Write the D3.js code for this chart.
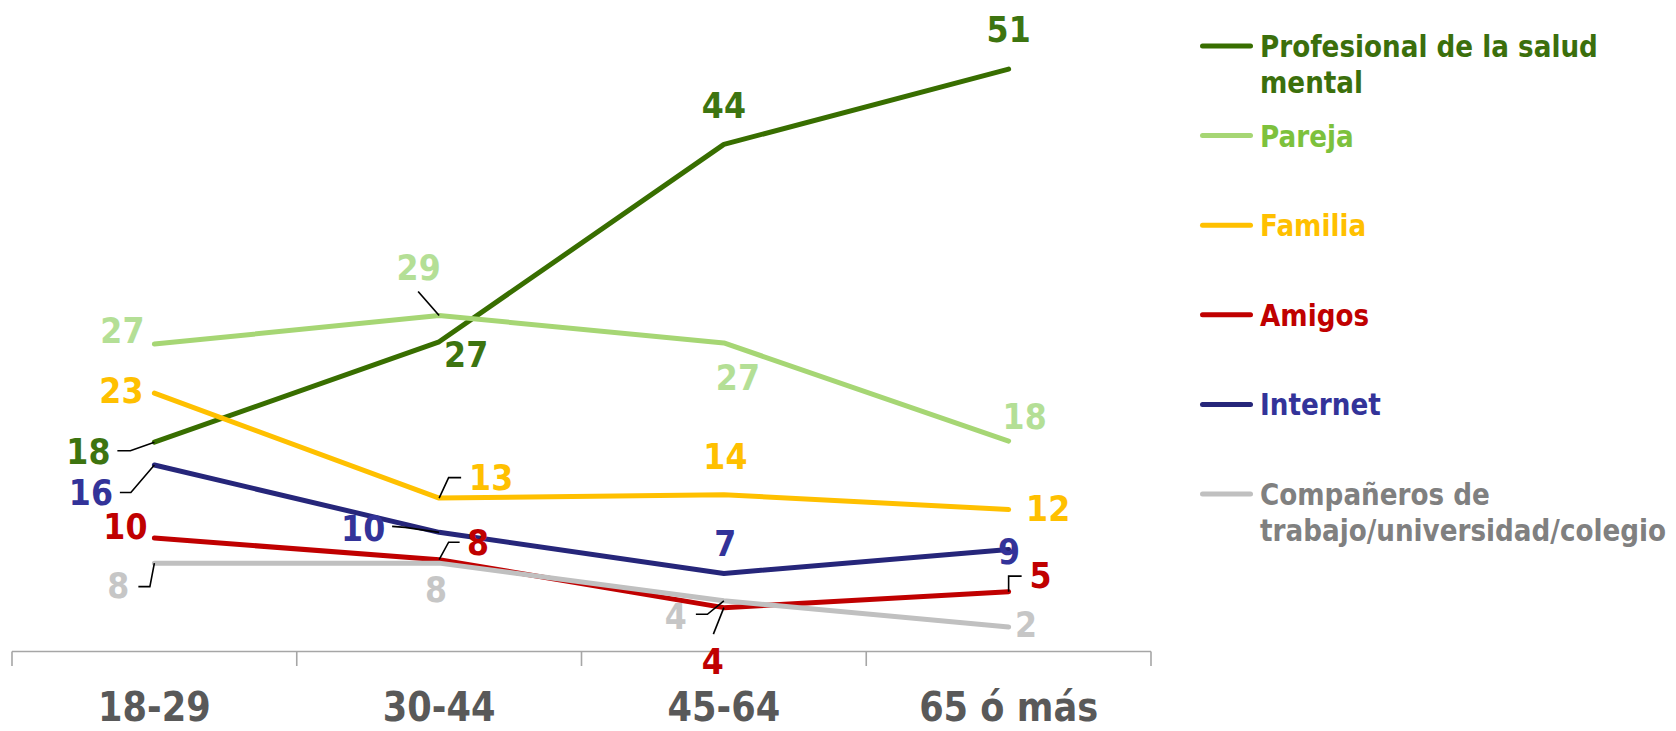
<!DOCTYPE html>
<html><head><meta charset="utf-8">
<script src="https://cdn.jsdelivr.net/npm/d3@7"></script>
<style>body{margin:0;background:#fff;} svg{display:block;}</style>
</head><body><svg id="chart" width="1676" height="731"></svg>
<script>
// ---------- data ----------
const categories = ["18-29", "30-44", "45-64", "65 ó más"];
const seriesNames = ["Profesional de la salud mental", "Pareja", "Familia", "Amigos", "Internet", "Compañeros de trabajo/universidad/colegio"];
const profesional = [18.3, 27.1, 44.4, 51.0];
const pareja      = [26.9, 29.4, 27.0, 18.4];
const familia     = [22.6, 13.4, 13.7, 12.4];
const amigos      = [9.9, 8.0, 3.8, 5.2];
const internet    = [16.3, 10.4, 6.8, 8.9];
const companeros  = [7.7, 7.7, 4.4, 2.1];

// ---------- styles / layout ----------
const legendLines = [["Profesional de la salud", "mental"], ["Pareja"], ["Familia"], ["Amigos"], ["Internet"], ["Compañeros de", "trabajo/universidad/colegio"]];
const lineColors   = ["#386e00", "#a6d674", "#ffc000", "#c00000", "#26267a", "#c0c0c0"];
const labelColors  = ["#3d7410", "#b4df96", "#ffc000", "#c00000", "#333399", "#c6c6c6"];
const legendColors = ["#3b6f0c", "#7dc13c", "#ffc000", "#c00000", "#333399", "#808080"];

// label placement relative to each point: dx (center), dy (baseline), optional leader polyline
const labelLayout = [
  [ {dx:-66, dy:22, leader:[[-37,8.5],[-24,8.5],[0,0]]}, {dx:27, dy:25}, {dx:0, dy:-26}, {dx:0, dy:-27} ],
  [ {dx:-32, dy:-1}, {dx:-20.5, dy:-36, leader:[[-21,-24],[0,0]]}, {dx:14, dy:47}, {dx:16, dy:-12} ],
  [ {dx:-33, dy:10}, {dx:52, dy:-8, leader:[[0,0],[9.5,-20.5],[22,-20.5]]}, {dx:1.5, dy:-26}, {dx:39.5, dy:11} ],
  [ {dx:-29, dy:1}, {dx:39, dy:-5, leader:[[0,0],[9.5,-17.5],[20.5,-17.5]]}, {dx:-11, dy:66, leader:[[0,0],[-10.5,26.5]]}, {dx:32, dy:-3.5, leader:[[0,0],[0,-15.5],[13,-15.5]]} ],
  [ {dx:-63.5, dy:40, leader:[[-34.5,27.5],[-23.5,27.5],[0,0]]}, {dx:-76, dy:9, leader:[[-47,-6],[-34,-5],[0,0]]}, {dx:1.5, dy:-17}, {dx:0.5, dy:15} ],
  [ {dx:-36, dy:35, leader:[[-16,23.5],[-4.5,23.5],[0,0]]}, {dx:-3, dy:38.5}, {dx:-48, dy:28.5, leader:[[-28,13.5],[-16.5,13.5],[0,0]]}, {dx:17.5, dy:9.5} ]
];

const allValues = [profesional, pareja, familia, amigos, internet, companeros];
const series = seriesNames.map((name, i) => ({
  name, values: allValues[i], legend: legendLines[i],
  line: lineColors[i], label: labelColors[i], legendColor: legendColors[i], layout: labelLayout[i]
}));

const FONT = "'DejaVu Sans', Verdana, sans-serif";
const svg = d3.select("#chart");

const x = d3.scaleBand().domain(categories).range([12, 1151]).paddingInner(0).paddingOuter(0);
const y = d3.scaleLinear().domain([0, 55]).range([651, 651 - 55 * 11.41]);
const cx = c => x(c) + x.bandwidth() / 2;

// ---------- axis ----------
const axisY = 651.5;
const axisG = svg.append("g").attr("class", "x-axis");
axisG.append("line").attr("x1", x.range()[0]).attr("x2", x.range()[1])
  .attr("y1", axisY).attr("y2", axisY).attr("stroke", "#a6a6a6").attr("stroke-width", 1.6);
const boundaries = categories.map(c => x(c)).concat([x.range()[1]]);
axisG.selectAll("line.tick").data(boundaries).join("line").attr("class", "tick")
  .attr("x1", d => d).attr("x2", d => d).attr("y1", axisY).attr("y2", 666)
  .attr("stroke", "#a6a6a6").attr("stroke-width", 1.6);

const labAxis = svg.append("g").attr("transform", `translate(0,${axisY})`)
  .call(d3.axisBottom(x).tickSize(0).tickPadding(0));
labAxis.select(".domain").remove();
labAxis.selectAll(".tick text")
  .attr("font-family", FONT).attr("font-weight", "bold").attr("font-size", 40)
  .attr("fill", "#595959").attr("y", 0).attr("dy", 0)
  .attr("transform", `translate(0,${721 - axisY}) scale(0.88,1)`);

// ---------- lines ----------
const lineGen = d3.line().x((d, i) => cx(categories[i])).y(d => y(d));
svg.append("g").selectAll("path.series").data(series).join("path").attr("class", "series")
  .attr("d", d => lineGen(d.values)).attr("fill", "none")
  .attr("stroke", d => d.line).attr("stroke-width", 5)
  .attr("stroke-linecap", "round").attr("stroke-linejoin", "round");

// ---------- leaders & labels ----------
const fmt = d3.format(".0f");
const labG = svg.append("g");
series.forEach(s => {
  s.values.forEach((v, i) => {
    const px = cx(categories[i]), py = y(v);
    const L = s.layout[i];
    if (L.leader) {
      labG.append("polyline")
        .attr("points", L.leader.map(p => [px + p[0], py + p[1]].join(",")).join(" "))
        .attr("fill", "none").attr("stroke", "#000").attr("stroke-width", 1.6);
    }
  });
});
series.forEach(s => {
  s.values.forEach((v, i) => {
    const px = cx(categories[i]), py = y(v);
    const L = s.layout[i];
    labG.append("text").text(fmt(v))
      .attr("transform", `translate(${px + L.dx},${py + L.dy}) scale(0.88,1)`)
      .attr("text-anchor", "middle").attr("font-family", FONT).attr("font-weight", "bold")
      .attr("font-size", 36).attr("fill", s.label);
  });
});

// ---------- legend ----------
const leg = svg.append("g");
series.forEach((s, i) => {
  const ly = 46 + i * 89.6;
  leg.append("line").attr("x1", 1202.5).attr("x2", 1250.5).attr("y1", ly).attr("y2", ly)
    .attr("stroke", s.line).attr("stroke-width", 5).attr("stroke-linecap", "round");
  s.legend.forEach((t, k) => {
    leg.append("text").text(t)
      .attr("transform", `translate(1260,${ly + 11 + k * 36}) scale(0.875,1)`)
      .attr("font-family", FONT).attr("font-weight", "bold").attr("font-size", 30)
      .attr("fill", s.legendColor);
  });
});
</script></body></html>
